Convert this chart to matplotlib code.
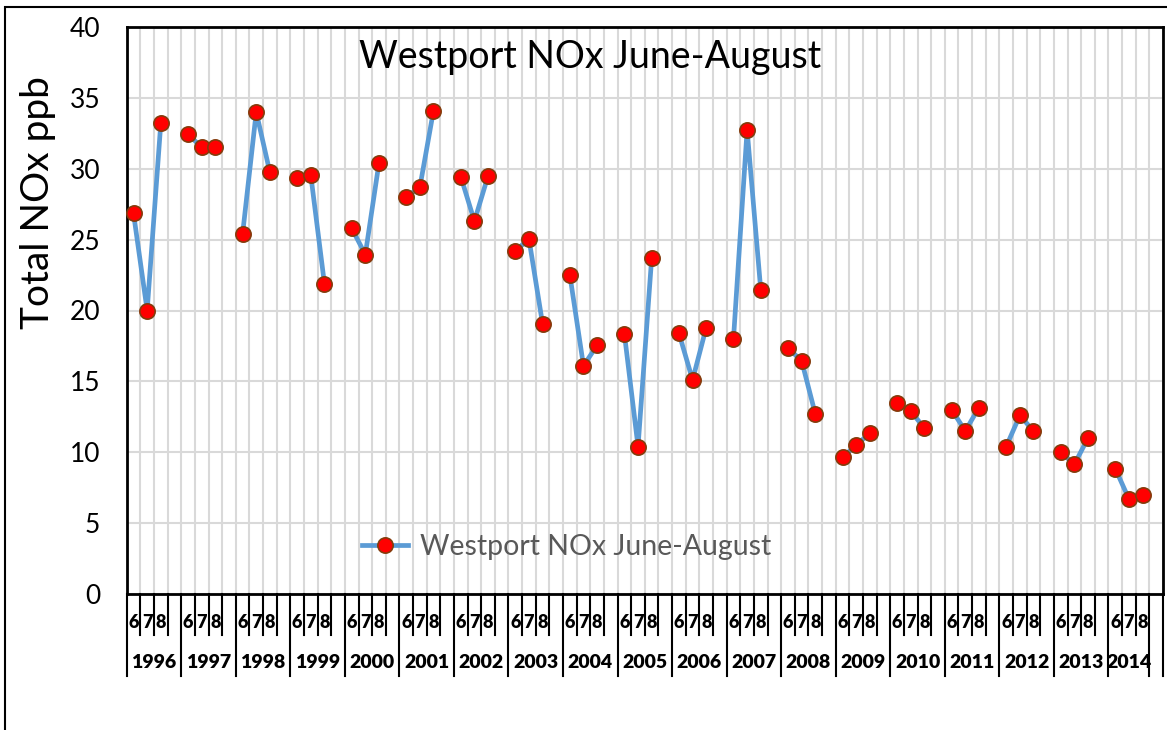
import numpy as np
import matplotlib
matplotlib.use("Agg")
import matplotlib.pyplot as plt
from matplotlib.lines import Line2D
from matplotlib.patches import Rectangle

plt.rcParams['font.family'] = ['Lato', 'DejaVu Sans']

years = [str(y) for y in range(1996, 2015)]
months = ['6', '7', '8']
nox = [
    [26.85, 20.0, 33.2],   # 1996
    [32.45, 31.5, 31.5],   # 1997
    [25.4, 34.0, 29.75],   # 1998
    [29.35, 29.55, 21.9],  # 1999
    [25.8, 23.95, 30.4],   # 2000
    [28.0, 28.7, 34.1],    # 2001
    [29.45, 26.3, 29.5],   # 2002
    [24.2, 25.05, 19.05],  # 2003
    [22.5, 16.1, 17.55],   # 2004
    [18.35, 10.4, 23.7],   # 2005
    [18.4, 15.1, 18.8],    # 2006
    [18.0, 32.75, 21.45],  # 2007
    [17.35, 16.45, 12.7],  # 2008
    [9.65, 10.5, 11.35],   # 2009
    [13.5, 12.9, 11.7],    # 2010
    [13.0, 11.5, 13.15],   # 2011
    [10.4, 12.6, 11.5],    # 2012
    [10.0, 9.15, 11.0],    # 2013
    [8.85, 6.7, 7.0],      # 2014
]
title = 'Westport NOx June-August'

W, H = 1167, 730
fig = plt.figure(figsize=(W / 100, H / 100), dpi=100)
left, right, top, bottom = 126.7, 1163, 27, 594
ax = fig.add_axes([left / W, 1 - bottom / H, (right - left) / W, (bottom - top) / H])

# outer chart-area frame (cropped at right and bottom)
fig.patches.append(Rectangle((5 / W, -0.1), 1.2, 1 - 7 / H + 0.1, transform=fig.transFigure,
                             fill=False, ec='black', lw=1.5, zorder=0))

# categories: 6,7,8,blank per year
ncat = len(years) * 4
vals = np.full(ncat, np.nan)
for i, yv in enumerate(nox):
    vals[i * 4:i * 4 + 3] = yv
xs = np.arange(ncat) + 0.5

ax.plot(xs, vals, color='#5B9BD5', lw=3.4, marker='o', ms=11,
        mfc='#FF0000', mec='#843C0C', mew=1.2, zorder=3, clip_on=False)

ax.set_xlim(0, ncat)
ax.set_ylim(0, 40)
ax.set_yticks(range(0, 41, 5))
ax.set_xticks(range(ncat + 1))
ax.set_xticklabels([])
ax.tick_params(axis='x', length=0)
ax.tick_params(axis='y', length=0, labelsize=19, pad=19)
ax.grid(True, color='#D9D9D9', lw=1.5)
ax.set_axisbelow(True)
for s in ax.spines.values():
    s.set_color('black')
    s.set_linewidth(2)

ax.set_ylabel('Total NOx ppb', fontsize=28)
ax.yaxis.set_label_coords(-(left - 56) / (right - left), (bottom - 203) / (bottom - top))

# multi-level category axis
tr = ax.get_xaxis_transform()
ph = bottom - top
y_mon = -(622 - bottom) / ph
y_year = -(662 - bottom) / ph
y_tick1 = -(635 - bottom) / ph
y_tick2 = -(676 - bottom) / ph
for k in range(ncat + 1):
    long_tick = (k % 4 == 0 and k < ncat) or k >= ncat - 1
    ax.plot([k, k], [0, y_tick2 if long_tick else y_tick1], color='black', lw=1.5,
            transform=tr, clip_on=False)
for i, yr in enumerate(years):
    for j, m in enumerate(months):
        ax.text(i * 4 + j + 0.5, y_mon, m, transform=tr, ha='center', va='center',
                fontsize=13, fontweight='heavy')
    span = 3 if i == len(years) - 1 else 4
    ax.text(i * 4 + span / 2, y_year, yr, transform=tr, ha='center', va='center',
            fontsize=14, fontweight='heavy')

fig.text(590 / W, 1 - 57 / H, title, ha='center', va='center', fontsize=27)

handle = Line2D([], [], color='#5B9BD5', lw=3.4, marker='o', ms=11,
                mfc='#FF0000', mec='#843C0C', mew=1.2)
ax.legend([handle], [title], loc='center left', bbox_to_anchor=(362 / W, 1 - 547 / H),
          bbox_transform=fig.transFigure, frameon=False, fontsize=20.5, labelcolor='#595959',
          handlelength=1.6, handletextpad=0.45, borderpad=0, borderaxespad=0)

plt.savefig('out.png', dpi=100)
